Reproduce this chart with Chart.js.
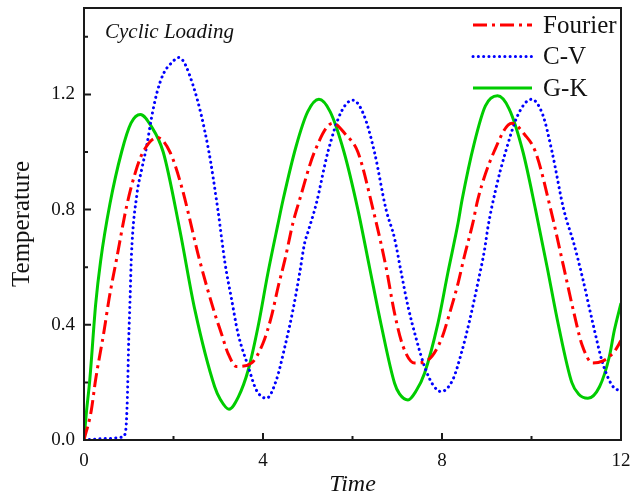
<!DOCTYPE html>
<html>
<head>
<meta charset="utf-8">
<script src="https://cdn.jsdelivr.net/npm/chart.js@4.4.1/dist/chart.umd.min.js"></script>
<style>
  body { margin: 0; background: #fff; }
  #wrap { width: 630px; height: 494px; }
</style>
</head>
<body>
<div id="wrap"><canvas id="chart"></canvas></div>
<script>
    // Values
    const fourierTime = [0, 0.16, 0.26, 0.45, 0.56, 0.73, 0.95, 1.15, 1.32, 1.64, 1.92, 2.18, 2.59, 2.92, 3.07, 3.22, 3.41, 3.74, 4.0, 4.19, 4.34, 4.49, 4.67, 4.82, 5.15, 5.56, 5.85, 6.12, 6.46, 6.75, 6.94, 7.13, 7.39, 7.69, 7.98, 8.17, 8.36, 8.5, 8.69, 8.8, 9.16, 9.56, 9.85, 10.09, 10.43, 10.72, 10.95, 11.13, 11.37, 11.6, 11.85, 12];
    const fourierTemp = [0, 0.1, 0.21, 0.38, 0.49, 0.63, 0.81, 0.93, 1.0, 1.05, 1.0, 0.88, 0.62, 0.44, 0.37, 0.30, 0.255, 0.267, 0.336, 0.43, 0.533, 0.626, 0.754, 0.835, 1.0, 1.10, 1.06, 1.0, 0.8, 0.6, 0.44, 0.325, 0.267, 0.278, 0.348, 0.44, 0.545, 0.638, 0.754, 0.835, 1.0, 1.10, 1.06, 1.0, 0.8, 0.6, 0.44, 0.33, 0.267, 0.275, 0.307, 0.345];

    const cvTime = [0, 0.5, 0.86, 0.93, 0.97, 1.0, 1.03, 1.06, 1.18, 1.29, 1.4, 1.51, 1.62, 1.77, 1.96, 2.12, 2.44, 2.78, 3.0, 3.15, 3.3, 3.44, 3.67, 3.85, 4.08, 4.3, 4.49, 4.67, 4.82, 4.93, 5.0, 5.19, 5.45, 5.75, 6.01, 6.25, 6.49, 6.75, 6.94, 7.09, 7.24, 7.43, 7.61, 7.8, 7.98, 8.24, 8.43, 8.62, 8.8, 8.95, 9.03, 9.2, 9.42, 9.7, 10.0, 10.25, 10.46, 10.72, 10.95, 11.15, 11.37, 11.59, 11.8, 12];
    const cvTemp = [0, 0.005, 0.01, 0.03, 0.15, 0.35, 0.49, 0.64, 0.85, 0.94, 1.02, 1.12, 1.20, 1.27, 1.31, 1.328, 1.23, 1.01, 0.79, 0.615, 0.487, 0.371, 0.255, 0.174, 0.145, 0.209, 0.325, 0.452, 0.58, 0.684, 0.72, 0.82, 1.0, 1.14, 1.18, 1.13, 1.0, 0.8, 0.70, 0.58, 0.464, 0.348, 0.255, 0.191, 0.168, 0.209, 0.30, 0.417, 0.545, 0.66, 0.742, 0.87, 1.0, 1.13, 1.183, 1.13, 1.0, 0.8, 0.68, 0.557, 0.406, 0.267, 0.19, 0.168];

    const gkTime = [0, 0.05, 0.13, 0.26, 0.37, 0.58, 0.84, 1.05, 1.26, 1.5, 1.77, 2.14, 2.48, 2.92, 3.05, 3.24, 3.45, 3.67, 3.89, 4.11, 4.34, 4.45, 4.74, 5.0, 5.25, 5.5, 5.81, 6.12, 6.38, 6.64, 6.94, 7.05, 7.24, 7.42, 7.61, 7.91, 8.13, 8.36, 8.45, 8.72, 8.97, 9.24, 9.5, 9.81, 10.09, 10.35, 10.6, 10.9, 11.05, 11.26, 11.52, 11.74, 11.85, 12];
    const gkTemp = [0, 0.09, 0.21, 0.47, 0.62, 0.82, 1.0, 1.10, 1.13, 1.09, 1.0, 0.73, 0.45, 0.185, 0.14, 0.107, 0.15, 0.243, 0.394, 0.58, 0.754, 0.835, 1.02, 1.14, 1.183, 1.14, 1.0, 0.8, 0.6, 0.4, 0.197, 0.16, 0.139, 0.17, 0.232, 0.406, 0.58, 0.754, 0.835, 1.03, 1.16, 1.195, 1.15, 1.0, 0.8, 0.6, 0.4, 0.2, 0.16, 0.145, 0.185, 0.29, 0.38, 0.475];

    const seriesNames = ['Fourier', 'C-V', 'G-K'];
    const xTicks = [0, 4, 8, 12];
    const xTickLabels = ['0', '4', '8', '12'];
    const xMinor = [2, 6, 10];
    const yTicks = [0, 0.4, 0.8, 1.2];
    const yTickLabels = ['0.0', '0.4', '0.8', '1.2'];
    const yMinor = [0.2, 0.6, 1.0, 1.4];

    const serif = 'Liberation Serif';

    function toPoints(times, temps) {
        return times.map((t, i) => ({ x: t, y: temps[i] }));
    }

    // Box, inward ticks, inset label and legend
    const decor = {
        id: 'decor',
        afterDraw(chart) {
            const { ctx, chartArea: a, scales: { x, y } } = chart;
            ctx.save();
            ctx.strokeStyle = '#1a1a1a';
            ctx.lineWidth = 2;
            ctx.strokeRect(a.left, a.top, a.right - a.left, a.bottom - a.top);

            ctx.beginPath();
            xTicks.forEach(v => { const p = x.getPixelForValue(v); ctx.moveTo(p, a.bottom); ctx.lineTo(p, a.bottom - 7); });
            xMinor.forEach(v => { const p = x.getPixelForValue(v); ctx.moveTo(p, a.bottom); ctx.lineTo(p, a.bottom - 4); });
            yTicks.forEach(v => { const p = y.getPixelForValue(v); ctx.moveTo(a.left, p); ctx.lineTo(a.left + 7, p); });
            yMinor.forEach(v => { const p = y.getPixelForValue(v); ctx.moveTo(a.left, p); ctx.lineTo(a.left + 4, p); });
            ctx.stroke();

            ctx.fillStyle = '#111';
            ctx.font = 'italic 21px ' + serif;
            ctx.textBaseline = 'alphabetic';
            ctx.fillText('Cyclic Loading', 105, 38);

            ctx.font = '25px ' + serif;
            ctx.textBaseline = 'middle';
            chart.data.datasets.forEach((ds, i) => {
                const ly = 25 + i * 31.5;
                ctx.save();
                ctx.strokeStyle = ds.borderColor;
                ctx.lineWidth = ds.borderWidth;
                ctx.lineCap = ds.borderCapStyle || 'butt';
                ctx.setLineDash(ds.borderDash || []);
                ctx.beginPath();
                ctx.moveTo(473, ly);
                ctx.lineTo(532, ly);
                ctx.stroke();
                ctx.restore();
                ctx.fillText(ds.label, 543, ly + 1);
            });
            ctx.restore();
        }
    };

    const ctx = document.getElementById('chart').getContext('2d');
    new Chart(ctx, {
        type: 'line',
        data: {
            datasets: [{
                label: seriesNames[0],
                data: toPoints(fourierTime, fourierTemp),
                borderColor: '#ff0000',
                borderWidth: 3,
                borderDash: [14, 5, 3, 5]
            }, {
                label: seriesNames[1],
                data: toPoints(cvTime, cvTemp),
                borderColor: '#0000ff',
                borderWidth: 3,
                borderDash: [0.1, 5.2],
                borderCapStyle: 'round'
            }, {
                label: seriesNames[2],
                data: toPoints(gkTime, gkTemp),
                borderColor: '#00cc00',
                borderWidth: 3
            }]
        },
        options: {
            responsive: true,
            maintainAspectRatio: false,
            animation: false,
            layout: { padding: { top: 8, right: 9, left: 0, bottom: 0 } },
            elements: {
                point: { radius: 0 },
                line: { cubicInterpolationMode: 'monotone', fill: false }
            },
            plugins: {
                legend: { display: false },
                tooltip: { enabled: false }
            },
            scales: {
                x: {
                    type: 'linear',
                    min: 0,
                    max: 12,
                    afterBuildTicks: s => { s.ticks = xTicks.map(v => ({ value: v })); },
                    afterFit: s => { s.height = 54; s.paddingLeft = 0; s.paddingRight = 0; },
                    grid: { display: false, drawTicks: false },
                    border: { display: false },
                    ticks: {
                        autoSkip: false,
                        maxRotation: 0,
                        padding: 10,
                        color: '#111',
                        font: { family: serif, size: 19 },
                        callback: v => xTickLabels[xTicks.indexOf(v)]
                    },
                    title: {
                        display: true,
                        text: 'Time',
                        color: '#111',
                        font: { family: serif, size: 24, style: 'italic', lineHeight: 0.75 },
                        padding: { top: 0, bottom: 0 }
                    }
                },
                y: {
                    min: 0,
                    max: 1.5,
                    afterBuildTicks: s => { s.ticks = yTicks.map(v => ({ value: v })); },
                    afterFit: s => { s.width = 84; s.paddingTop = 0; s.paddingBottom = 0; },
                    grid: { display: false, drawTicks: false },
                    border: { display: false },
                    ticks: {
                        padding: 9,
                        color: '#111',
                        font: { family: serif, size: 19 },
                        callback: v => yTickLabels[yTicks.indexOf(v)]
                    },
                    title: {
                        display: true,
                        text: 'Temperature',
                        color: '#111',
                        font: { family: serif, size: 25, lineHeight: 1.2 },
                        padding: { top: 7, bottom: 0 }
                    }
                }
            }
        },
        plugins: [decor]
    });
</script>
</body>
</html>
